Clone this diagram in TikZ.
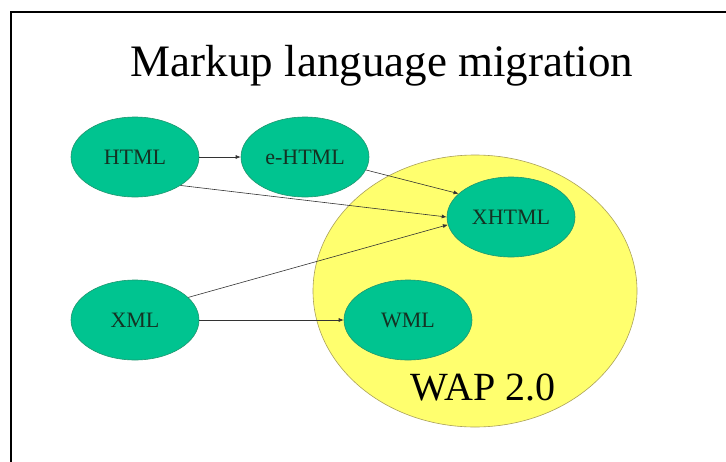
\documentclass[tikz,border=0pt]{standalone}
\usepackage{fontspec}
\setmainfont{Liberation Serif}
\usetikzlibrary{shapes.geometric,arrows.meta}
\definecolor{teal1}{RGB}{0,196,144}
\definecolor{tealedge}{RGB}{30,150,110}
\definecolor{yel}{RGB}{255,255,110}
\definecolor{yeledge}{RGB}{170,160,90}
\definecolor{labtext}{RGB}{20,50,35}
\tikzset{
  lang/.style={ellipse, fill=teal1, draw=tealedge, line width=0.6pt, minimum width=128pt, minimum height=80pt, inner sep=0pt, font=\fontsize{22}{24}\selectfont, text=labtext},
  conn/.style={draw=black!80, line width=0.6pt, -{Latex[length=5pt,width=4pt]}}
}
\begin{document}
\begin{tikzpicture}[x=1pt,y=-1pt]
\useasboundingbox (0,0) rectangle (726,461);
\draw[line width=2pt] (11,475) -- (11,12) -- (740,12);
\node (title) at (382,66) {\fontsize{45}{50}\selectfont Markup language migration};
\node[ellipse, fill=yel, draw=yeledge, line width=0.6pt, minimum width=324pt, minimum height=272pt, inner sep=0pt] (wap) at (475,291) {};
\node[anchor=base, font=\fontsize{40}{44}\selectfont] (waplabel) at (483,400) {WAP 2.0};
\node[lang] (html) at (135,157) {HTML};
\node[lang] (ehtml) at (305,157) {e-HTML};
\node[lang] (xhtml) at (511,217) {XHTML};
\node[lang] (xml) at (135,320) {XML};
\node[lang] (wml) at (408,320) {WML};
\draw[conn] (html.east) -- (ehtml.west);
\draw[conn] (ehtml.-12) -- (xhtml.156);
\draw[conn] (html.-32) -- (xhtml.180);
\draw[conn] (xml.23) -- (xhtml.187);
\draw[conn] (xml.east) -- (wml.west);
\end{tikzpicture}
\end{document}
